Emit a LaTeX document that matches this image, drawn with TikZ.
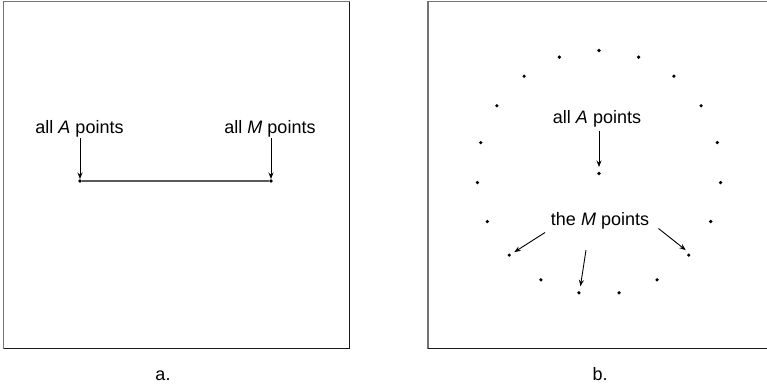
\documentclass[tikz,border=0pt]{standalone}
\usepackage{fontspec}
\setmainfont{Liberation Sans}
\usetikzlibrary{arrows.meta,calc}
\begin{document}
\begin{tikzpicture}[x=1pt,y=1pt,
  dot/.style={circle,fill=black,inner sep=0pt,minimum size=3.6pt},
  lbl/.style={font=\fontsize{18}{21}\selectfont,inner sep=0pt,anchor=base},
  arr/.style={-{Stealth[length=6.5pt,width=5pt]},line width=0.9pt,black},
  edgeg/.style={line width=1.6pt,black!55},
  edgek/.style={line width=1.6pt,black!90}]
\useasboundingbox (0,0) rectangle (767,-384);
% left frame
\draw[edgeg] (3.5,-349) -- (3.5,-1.5) -- (349.5,-1.5);
\draw[edgek] (3.5,-348.5) -- (349.5,-348.5) -- (349.5,-1.5);
% right frame (open to the right)
\draw[edgeg] (428,-349) -- (428,-1.5) -- (768,-1.5);
\draw[edgek] (428,-348.5) -- (768,-348.5);
% panel a
\node[dot] (aA) at (80,-181) {};
\node[dot] (aM) at (271,-181) {};
\draw[line width=1.1pt,black!65] (aA) -- (aM);
\node[lbl] (tA) at (79.5,-133) {all \textit{A} points};
\node[lbl] (tM) at (270,-133) {all \textit{M} points};
\draw[arr] (80,-138) -- (aA.north);
\draw[arr] (271,-138) -- (aM.north);
\node[lbl] (la) at (163,-380) {a.};
% panel b
\coordinate (c) at (599,-172.5);
\foreach \k in {0,...,18}
  \node[dot] (p\k) at ($(c)+({90+\k*360/19}:122)$) {};
\node[dot] (bA) at (599,-173.5) {};
\node[lbl] (tbA) at (597,-123.5) {all \textit{A} points};
\draw[arr] (599,-130.5) -- (599,-167);
\node[lbl] (tbM) at (600,-225) {the \textit{M} points};
\draw[arr] (545,-232.5) -- ($(p7)+(5,3)$);
\draw[arr] (586,-250) -- ($(p9)+(1.5,6.5)$);
\draw[arr] (658.5,-228.5) -- ($(p12)+(-3,5)$);
\node[lbl] (lb) at (600,-380) {b.};
\end{tikzpicture}
\end{document}
